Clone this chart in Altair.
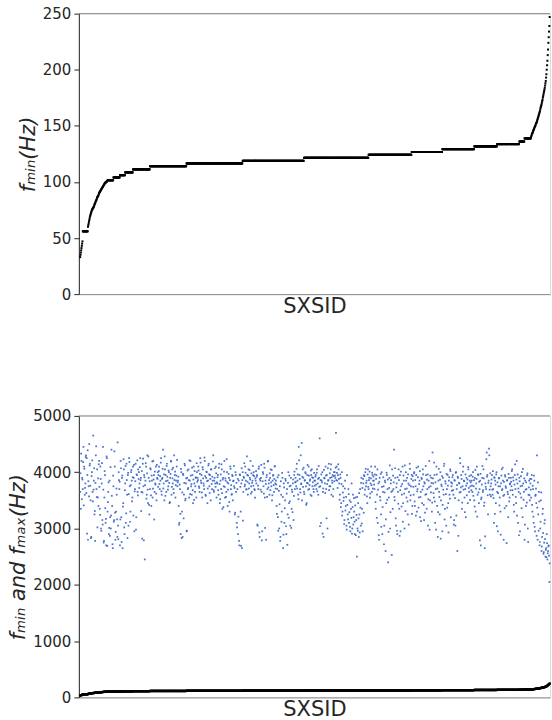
import altair as alt
import pandas as pd

# ---------------- data ----------------
# sorted f_min per SXSID: curved start, then quantised steps, then curved tail
fmin_start = [33, 35, 37, 39, 41, 43, 45, 47,
              56, 56, 56, 56, 56, 56, 56, 56, 56, 56, 56, 56, 56, 56, 56, 56,
              60, 61.5, 63, 64.5, 66, 67.5, 69, 70, 71, 72, 73, 74, 75, 75.5, 76, 76.5, 77, 77.5, 78, 79,
              80, 80.5, 81, 82, 83, 83.5, 84, 85, 86, 86.5, 87, 87.5, 88, 89, 90, 90.5, 91, 91.5, 92, 92.5,
              93, 93.5, 94, 94.5, 95, 95.5, 96, 96.5, 97, 97.5, 98, 98.5, 99, 99.2, 99.5, 99.7, 100, 100.2, 100.5, 100.7]
step_values = [101.5, 104, 106, 108.5, 111.2, 114, 116.5, 118.8, 121.5, 124.2,
               126.7, 129.2, 131.7, 133.7, 136, 138.8]
step_counts = [18, 20, 16, 24, 52, 112, 172, 188, 198, 132, 94, 98, 70, 68, 16, 20]
fmin_tail = [140, 141, 142, 143, 143.5, 144, 145, 146, 146.5, 147, 148, 149, 149.5, 150, 151, 152, 152.5, 153, 154, 155,
             156, 157, 158, 159, 160, 161, 162, 163, 164.5, 166, 167, 168, 169, 170.5, 172, 173, 175, 176.5, 178, 179.5,
             181, 182.5, 184, 186, 188, 190, 193, 196, 200, 204, 208, 213, 218, 224, 229, 234, 239, 247]

# f_max, even SXSIDs (a) and odd SXSIDs (b), in blocks of 30 from left to right
fmax_a01 = [3650, 3350, 4200, 3900, 3700, 4450, 4100, 3600, 3800, 4300, 4250, 3950, 2800, 3750, 4500, 4150, 3500, 2850, 4000, 3650, 4650, 3850, 3250, 2780, 4300, 3700, 4050, 3550, 3400, 4200]
fmax_a02 = [3350, 4100, 3000, 3800, 3150, 4450, 2750, 3550, 3950, 3100, 2700, 4250, 3300, 3650, 2900, 3850, 3200, 3000, 4400, 3400, 2650, 3750, 3150, 4100, 2800, 3300, 3600, 2850, 3050, 4000]
fmax_a03 = [3700, 2700, 4200, 3200, 3900, 2650, 3450, 4050, 2900, 3800, 3100, 4150, 3600, 3950, 3050, 4250, 3750, 3300, 4000, 3850, 3550, 4100, 3900, 2950, 3700, 4150, 3200, 3950, 3650, 4050]
fmax_a04 = [4000, 3800, 4250, 3900, 3650, 2820, 4150, 3750, 3950, 2450, 3850, 4100, 3600, 4300, 3450, 3900, 3250, 3700, 4050, 3400, 3850, 3550, 4200, 3950, 3650, 3800, 4100, 3500, 3900, 4000]
fmax_a05 = [3950, 4100, 3700, 3850, 4250, 3600, 3900, 4400, 3800, 3500, 4050, 3950, 3650, 4150, 3850, 3750, 4000, 3450, 3900, 4200, 3600, 4050, 3800, 3700, 4300, 3950, 3550, 3850, 4100, 3750]
fmax_a06 = [3850, 3400, 3100, 3700, 2900, 4000, 3300, 2850, 3950, 3600, 4150, 3500, 3800, 2950, 3900, 3700, 4050, 3550, 3850, 4200, 3750, 3600, 3950, 3450, 4100, 3800, 3650, 3900, 3550, 4000]
fmax_a07 = [3900, 4100, 3750, 3650, 4250, 3850, 3950, 3550, 4050, 3800, 3700, 4200, 3600, 3900, 4000, 3450, 3850, 4150, 3750, 3950, 3500, 4050, 3700, 3850, 4300, 3650, 3900, 3800, 4100, 3550]
fmax_a08 = [3800, 3950, 3600, 4150, 3450, 3850, 3700, 4050, 3350, 3900, 3750, 4200, 3550, 3850, 3650, 4000, 3400, 3800, 3900, 3300, 4100, 3700, 3600, 3950, 3500, 3850, 3750, 3250, 4000, 3650]
fmax_a09 = [3100, 3700, 2900, 3850, 2700, 3950, 3300, 3800, 2650, 4000, 3650, 3900, 3750, 4100, 3850, 3700, 3950, 3600, 4050, 3800, 3900, 4200, 3750, 3650, 3850, 3950, 4000, 3700, 3550, 3850]
fmax_a10 = [3800, 3950, 3050, 3700, 4100, 2850, 3850, 3900, 3650, 2950, 4000, 3750, 4150, 3550, 3850, 2800, 3950, 3700, 4200, 3800, 3600, 3900, 4050, 3750, 3500, 3850, 3950, 3650, 4100, 3800]
fmax_a11 = [3850, 3400, 3700, 3200, 3950, 3000, 3750, 2850, 3600, 3300, 3900, 2650, 3800, 3100, 3500, 3850, 2900, 3700, 3250, 4000, 3450, 3750, 3050, 3900, 3350, 3650, 3800, 3150, 3950, 3700]
fmax_a12 = [3900, 3750, 4150, 3850, 3600, 4450, 3950, 3700, 4300, 3800, 3500, 4050, 3900, 3650, 3850, 4000, 3750, 3450, 3950, 3800, 4100, 3700, 3850, 3600, 3950, 4050, 3750, 3900, 3650, 3850]
fmax_a13 = [3850, 3950, 3700, 4050, 3800, 3600, 3900, 4600, 3750, 3100, 3850, 4000, 3650, 2850, 3900, 3800, 4100, 3700, 3950, 3000, 3850, 4150, 3750, 3900, 4050, 3600, 3850, 3950, 3700, 4000]
fmax_a14 = [4000, 3900, 4700, 4100, 3850, 3950, 4050, 3800, 3600, 3900, 3450, 4000, 3300, 3750, 3550, 3150, 3850, 3400, 3050, 3950, 3250, 3700, 3100, 3500, 2950, 3350, 3800, 3000, 3600, 3200]
fmax_a15 = [3300, 2900, 3550, 3150, 2500, 3000, 3450, 2850, 3250, 3700, 3050, 3900, 3350, 2950, 3800, 3950, 3600, 4000, 3750, 3850, 3450, 4050, 3700, 3900, 3550, 3800, 4100, 3650, 3950, 3850]
fmax_a16 = [3850, 3700, 4100, 3350, 3950, 3600, 3100, 3800, 2800, 3900, 3500, 3250, 4000, 2900, 3650, 3750, 3050, 3850, 2600, 3450, 3950, 3700, 2400, 3550, 3900, 3000, 3800, 3650, 4050, 3350]
fmax_a17 = [3700, 4400, 3500, 3900, 3050, 3800, 2900, 3650, 4050, 3350, 3950, 2950, 3750, 3600, 4100, 3450, 3850, 3000, 3700, 4000, 3550, 3900, 3250, 3800, 3650, 4150, 3500, 3750, 3950, 3400]
fmax_a18 = [3850, 3600, 4000, 3400, 3750, 3950, 3300, 3700, 4100, 3550, 3850, 3200, 3650, 3900, 3450, 4050, 3750, 3150, 3800, 3600, 3950, 3350, 3700, 3050, 3850, 4200, 3500, 3750, 3900, 3300]
fmax_a19 = [4350, 3800, 3550, 3950, 3100, 3700, 4100, 3400, 2850, 3850, 3650, 3250, 4000, 3500, 3750, 2950, 3900, 3600, 4150, 3350, 3800, 3050, 3700, 3950, 3450, 3850, 3600, 4050, 3200, 3750]
fmax_a20 = [3800, 3950, 3600, 3150, 3850, 3050, 4000, 3700, 2600, 3900, 3500, 3800, 4250, 3650, 3950, 3350, 3750, 4100, 3850, 3550, 3700, 3200, 3900, 3800, 3450, 4050, 3650, 3850, 3750, 3950]
fmax_a21 = [3850, 3650, 4000, 3750, 3500, 3900, 3300, 3800, 4100, 3600, 3950, 3450, 3700, 3850, 2700, 3550, 3900, 3650, 4050, 3400, 2650, 3800, 3700, 4350, 3950, 3250, 3850, 4300, 3600, 3750]
fmax_a22 = [3800, 3950, 3600, 3700, 3100, 3900, 3850, 3450, 4000, 3650, 2950, 3750, 3900, 3550, 3300, 3800, 4050, 3700, 3850, 2800, 3600, 3950, 3750, 3400, 3850, 3650, 3200, 3900, 3550, 3800]
fmax_a23 = [3900, 3750, 4050, 3600, 3850, 3300, 3950, 3700, 3450, 4200, 3800, 3100, 3650, 3900, 2950, 3750, 3550, 4000, 3200, 3800, 3650, 2800, 3850, 3400, 3700, 3950, 3000, 3600, 3850, 3500]
fmax_a24 = [3800, 3550, 3950, 3300, 3700, 3100, 3850, 2950, 3600, 3450, 4300, 2800, 3250, 3650, 2700, 3000, 3500, 2600, 2850, 3350, 2550, 2750, 3150, 2500, 2650, 2900, 2450, 2600, 2700, 2050]

fmax_b01 = [3980, 4330, 3520, 3870, 4180, 3410, 4060, 3720, 4270, 3630, 2910, 4390, 3840, 3570, 4120, 3760, 2830, 3930, 4210, 3480, 3690, 4070, 3310, 3810, 4460, 3560, 3020, 3890, 4140, 3740]
fmax_b02 = [3240, 3880, 2960, 4160, 3070, 3690, 2780, 4020, 3360, 3170, 4280, 2690, 3470, 3820, 3010, 2870, 4090, 3230, 3580, 2720, 3940, 3120, 4370, 3280, 2940, 3710, 3160, 4530, 2810, 3860]
fmax_b03 = [3830, 3160, 4070, 2760, 3940, 3390, 4230, 3020, 3680, 4110, 3270, 3860, 2830, 3990, 3610, 4180, 3120, 3770, 4040, 3480, 3910, 3230, 4130, 3660, 3840, 2980, 3960, 4210, 3590, 3880]
fmax_b04 = [3720, 4090, 3860, 3310, 4020, 3640, 4240, 2790, 3910, 3770, 4160, 3530, 3980, 3690, 4280, 3420, 3840, 4070, 3590, 3940, 4190, 3710, 3870, 3160, 4010, 3780, 3620, 4130, 3880, 3740]
fmax_b05 = [4020, 3790, 3930, 4170, 3660, 3880, 4060, 3710, 3960, 4280, 3580, 3840, 4110, 3920, 3690, 4030, 3810, 3470, 3970, 4190, 3740, 3890, 4080, 3630, 3860, 4010, 3770, 3940, 4220, 3820]
fmax_b06 = [3920, 3070, 3780, 3260, 4060, 2830, 3640, 3970, 3180, 3810, 4120, 3530, 3890, 2960, 4030, 3720, 3860, 4210, 3610, 3940, 3790, 4080, 3680, 3870, 3510, 4020, 3750, 3910, 4160, 3830]
fmax_b07 = [3860, 4030, 3720, 3970, 4170, 3810, 3640, 4090, 3890, 3760, 4260, 3930, 3580, 4010, 3840, 3710, 4120, 3960, 3630, 3880, 4050, 3790, 3920, 4190, 3680, 3850, 4070, 3740, 3980, 3820]
fmax_b08 = [3910, 3680, 4080, 3790, 3520, 3960, 4140, 3630, 3870, 3380, 4010, 3740, 3890, 3560, 4230, 3820, 3690, 3970, 3470, 3860, 4060, 3770, 3610, 3930, 3840, 4110, 3720, 3280, 3950, 3810]
fmax_b09 = [3020, 3880, 3210, 2780, 3960, 3740, 2690, 4070, 3860, 3140, 3920, 4160, 3780, 3990, 3690, 4280, 3830, 3940, 3710, 4040, 3870, 3620, 3980, 3810, 4110, 3760, 3930, 3680, 3890, 4020]
fmax_b10 = [3920, 3070, 3760, 4060, 2930, 3880, 3690, 4130, 2790, 3840, 3970, 3620, 4080, 3010, 3790, 3910, 3560, 4190, 3730, 3860, 3980, 3680, 3820, 4040, 3590, 3940, 3770, 3880, 4110, 3710]
fmax_b11 = [3780, 3260, 3910, 2960, 3670, 3430, 2780, 3840, 3120, 3990, 3560, 2890, 3730, 3360, 3880, 3040, 3620, 2710, 3810, 3190, 3940, 3480, 3760, 3010, 3690, 3290, 3870, 3580, 4010, 3820]
fmax_b12 = [3830, 4060, 3710, 3960, 3520, 4210, 3880, 3640, 3790, 4520, 3920, 3740, 4080, 3610, 3860, 3980, 3420, 3810, 4130, 3690, 3940, 3770, 3870, 4030, 3580, 3910, 3820, 3700, 3990, 3760]
fmax_b13 = [3920, 3780, 3990, 3660, 3880, 4110, 3740, 3040, 3860, 3960, 3820, 2910, 3710, 4040, 3890, 3630, 3940, 3180, 3790, 4070, 3860, 3680, 3980, 3750, 4140, 3910, 3810, 3570, 3930, 3840]
fmax_b14 = [3940, 4080, 3860, 3990, 3720, 4140, 3880, 3510, 3960, 3380, 3790, 3230, 3640, 3490, 3080, 3710, 3320, 3560, 2980, 3420, 3160, 3610, 3290, 3030, 3470, 3190, 2910, 3380, 3070, 3540]
fmax_b15 = [3120, 3410, 2880, 3240, 3560, 2960, 3180, 3630, 2930, 3370, 3810, 3090, 3720, 3880, 3280, 3930, 3690, 4060, 3810, 3570, 3960, 3740, 3860, 4010, 3620, 3890, 3770, 3990, 3710, 3920]
fmax_b16 = [3780, 3960, 3470, 3880, 3190, 4050, 3690, 2880, 3830, 3560, 3970, 3030, 3740, 3380, 3910, 2720, 3640, 3820, 3160, 3990, 3510, 3870, 2940, 3720, 4120, 3290, 3860, 2530, 3670, 3940]
fmax_b17 = [3820, 3560, 4070, 3180, 3730, 2960, 3910, 3440, 3860, 2870, 3680, 4010, 3390, 3790, 3120, 3940, 3620, 4120, 3310, 3850, 3710, 3480, 3960, 3070, 3770, 4060, 3590, 3880, 3260, 3930]
fmax_b18 = [3740, 3980, 3480, 3860, 3230, 4080, 3660, 3910, 3370, 3790, 4020, 3560, 3130, 3880, 3690, 3960, 3420, 3820, 3280, 4110, 3610, 3870, 3960, 3520, 3730, 2980, 3940, 3640, 3810, 3460]
fmax_b19 = [3890, 3630, 4170, 3480, 3820, 2980, 3960, 3710, 3290, 4060, 3560, 3870, 2820, 3780, 3930, 3420, 3690, 4110, 3160, 3840, 3610, 3970, 3370, 3760, 2930, 3910, 3530, 4020, 3820, 3670]
fmax_b20 = [3910, 3680, 3070, 3860, 3540, 3990, 3230, 3770, 3920, 2870, 3810, 3640, 4160, 3730, 3880, 3460, 4010, 3690, 3840, 3290, 3960, 3760, 3590, 3870, 4090, 3720, 3930, 3510, 3820, 3680]
fmax_b21 = [3760, 3920, 3580, 3860, 3390, 4040, 3710, 3880, 3210, 3960, 3640, 3830, 2790, 3970, 3520, 3780, 4110, 3680, 3890, 3460, 2860, 3740, 4230, 3920, 3590, 3810, 4420, 3690, 3980, 3570]
fmax_b22 = [3870, 3690, 4020, 3540, 3910, 3260, 3780, 3960, 3040, 3820, 3630, 3890, 3410, 3750, 2890, 3940, 3680, 4080, 3580, 3830, 3360, 3920, 3720, 2740, 3860, 3610, 3970, 3480, 3790, 3680]
fmax_b23 = [3830, 4020, 3680, 3910, 3420, 3780, 4140, 3560, 3870, 3230, 3960, 3710, 2880, 3840, 3620, 3930, 3360, 3760, 4060, 3510, 3890, 3070, 3690, 3820, 3460, 3980, 2760, 3730, 3590, 3880]
fmax_b24 = [3690, 3880, 3420, 3760, 3210, 3940, 3030, 3580, 3710, 2870, 3370, 3820, 2960, 3480, 2760, 3120, 3640, 2680, 3260, 2920, 2580, 3090, 2810, 2620, 2490, 2740, 2560, 2680, 2520, 2380]

top_ticks = [0, 50, 100, 150, 200, 250]
bottom_ticks = [0, 1000, 2000, 3000, 4000, 5000]

# ---------------- assemble table ----------------
fmin = list(fmin_start)
for v, c in zip(step_values, step_counts):
    fmin += [v] * c
fmin += fmin_tail

fmax_a = (fmax_a01 + fmax_a02 + fmax_a03 + fmax_a04 + fmax_a05 + fmax_a06 +
          fmax_a07 + fmax_a08 + fmax_a09 + fmax_a10 + fmax_a11 + fmax_a12 +
          fmax_a13 + fmax_a14 + fmax_a15 + fmax_a16 + fmax_a17 + fmax_a18 +
          fmax_a19 + fmax_a20 + fmax_a21 + fmax_a22 + fmax_a23 + fmax_a24)
fmax_b = (fmax_b01 + fmax_b02 + fmax_b03 + fmax_b04 + fmax_b05 + fmax_b06 +
          fmax_b07 + fmax_b08 + fmax_b09 + fmax_b10 + fmax_b11 + fmax_b12 +
          fmax_b13 + fmax_b14 + fmax_b15 + fmax_b16 + fmax_b17 + fmax_b18 +
          fmax_b19 + fmax_b20 + fmax_b21 + fmax_b22 + fmax_b23 + fmax_b24)
fmax = [v for pair in zip(fmax_a, fmax_b) for v in pair]

df = pd.DataFrame({"sxsid": list(range(len(fmin))), "fmin": fmin, "fmax": fmax})
one = pd.DataFrame({"a": [0]})

FONT = "DejaVu Sans"
TXT = "#262626"
SPINE = "#8a8a8a"
W = 472

xscale = alt.Scale(domain=[-4, 1440], nice=False, zero=False)


def xaxis():
    return alt.Axis(title="SXSID", labels=False, ticks=False, grid=False,
                    domain=True, domainColor=SPINE, domainWidth=1,
                    titleFontSize=21, titleFont=FONT, titleFontWeight="normal",
                    titleColor=TXT, titlePadding=1)


def yaxis(title, ticks):
    return alt.Axis(title=title, values=ticks, format="d", grid=False, domain=True,
                    domainColor=TXT, domainWidth=1, tickColor=TXT, tickSize=5,
                    labelFontSize=15, labelFont=FONT, labelColor=TXT, labelPadding=3,
                    titleFontSize=21, titleFont=FONT, titleFontStyle="italic",
                    titleFontWeight="normal", titleColor=TXT, titlePadding=4)


top_spine = alt.Chart(one).mark_rule(color=SPINE, strokeWidth=1).encode(
    x=alt.value(0), x2=alt.value(W), y=alt.value(0))

top_pts = alt.Chart(df).mark_square(size=4, color="black", opacity=1).encode(
    x=alt.X("sxsid:Q", scale=xscale, axis=xaxis()),
    y=alt.Y("fmin:Q", scale=alt.Scale(domain=[0, 250], nice=False),
            axis=yaxis("fₘᵢₙ(Hz)", top_ticks)),
)
top = alt.layer(top_pts, top_spine).properties(width=W, height=281)

blue = alt.Chart(df).mark_square(size=3, color="#3563c9", opacity=0.9).encode(
    x=alt.X("sxsid:Q", scale=xscale, axis=xaxis()),
    y=alt.Y("fmax:Q", scale=alt.Scale(domain=[0, 5000], nice=False),
            axis=yaxis("fₘᵢₙ and fₘₐₓ(Hz)", bottom_ticks)),
)
black = alt.Chart(df).mark_square(size=5, color="black", opacity=1).encode(
    x=alt.X("sxsid:Q", scale=xscale),
    y=alt.Y("fmin:Q"),
)
bottom = alt.layer(blue, black, top_spine).properties(width=W, height=282)

chart = alt.vconcat(top, bottom, spacing=91).properties(
    padding={"left": 7, "top": 5, "right": 0, "bottom": 0}
).configure_view(strokeWidth=0).configure(font=FONT)

chart.save("out.html", embed_options={"renderer": "svg", "actions": False})
